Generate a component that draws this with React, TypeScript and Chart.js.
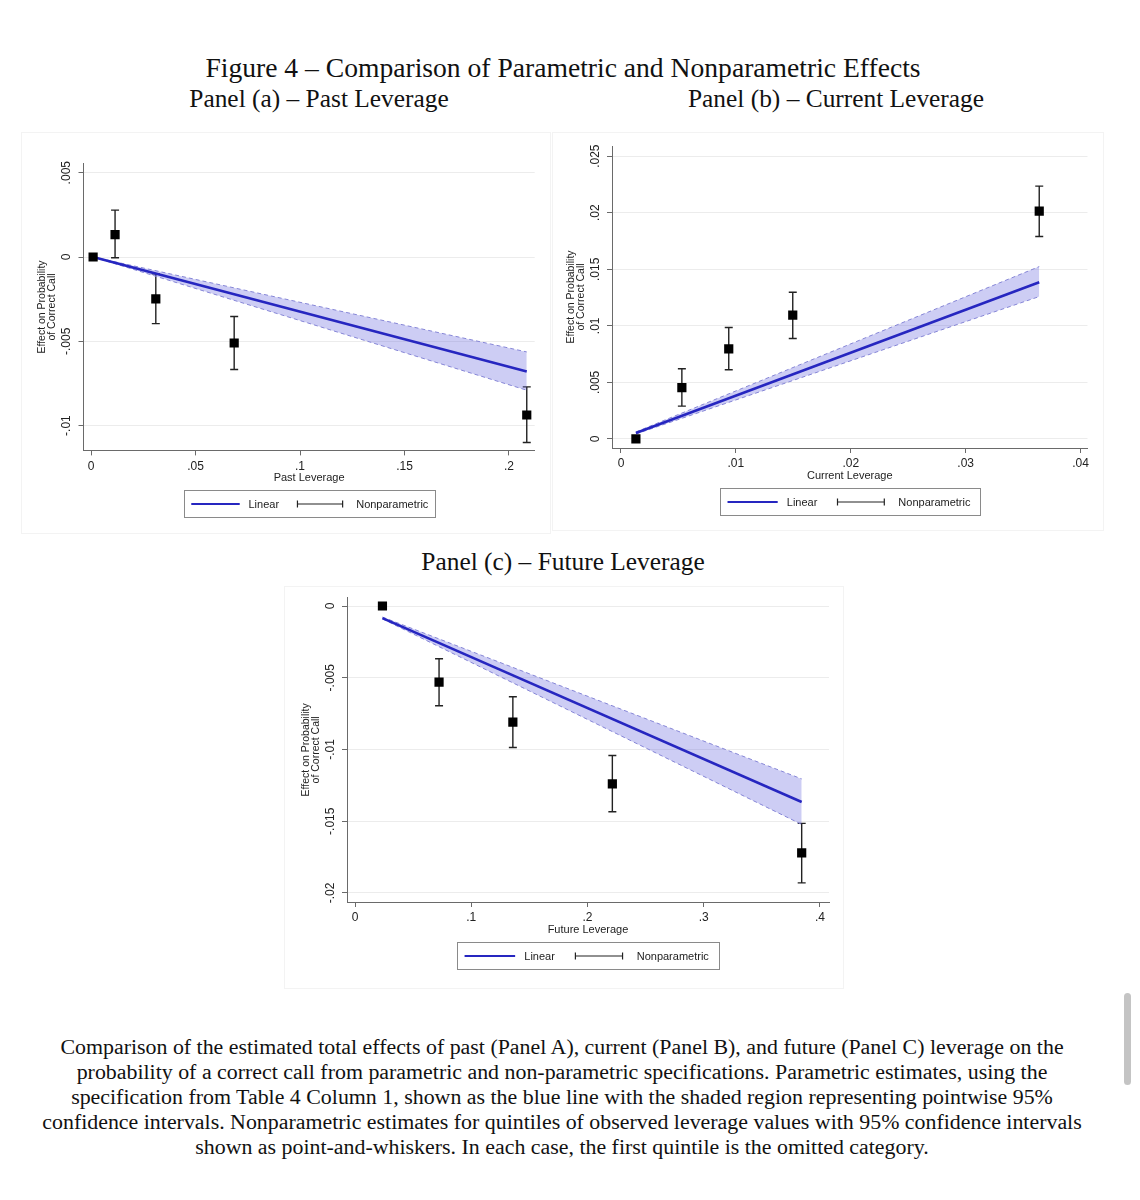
import React, { useEffect, useRef } from "react";
import { Chart, registerables } from "chart.js";

Chart.register(...registerables);

// ---------- Panel (a): Past Leverage ----------
const PAST_X = [0.001, 0.0115, 0.031, 0.0685, 0.2085];
const PAST_Y = [0, 0.00133, -0.00248, -0.0051, -0.00937];
const PAST_LO = [0, -0.00004, -0.00395, -0.00667, -0.011];
const PAST_HI = [0, 0.00278, -0.00099, -0.00353, -0.0077];
const PAST_LINE_X = [0.001, 0.2085];
const PAST_LINE_Y = [0, -0.00679];
const PAST_BAND_UP = [0, -0.00563];
const PAST_BAND_LO = [0, -0.0079];
const PAST_X_TICKS = [0, 0.05, 0.1, 0.15, 0.2];
const PAST_Y_TICKS = [-0.01, -0.005, 0, 0.005];

// ---------- Panel (b): Current Leverage ----------
const CUR_X = [0.0013, 0.0053, 0.00938, 0.01495, 0.0364];
const CUR_Y = [0, 0.00453, 0.00797, 0.01094, 0.02015];
const CUR_LO = [0, 0.0029, 0.00612, 0.00888, 0.0179];
const CUR_HI = [0, 0.0062, 0.00985, 0.01297, 0.02235];
const CUR_LINE_X = [0.0013, 0.0364];
const CUR_LINE_Y = [0.00053, 0.01385];
const CUR_BAND_UP = [0.00062, 0.01524];
const CUR_BAND_LO = [0.00044, 0.01259];
const CUR_X_TICKS = [0, 0.01, 0.02, 0.03, 0.04];
const CUR_Y_TICKS = [0, 0.005, 0.01, 0.015, 0.02, 0.025];

// ---------- Panel (c): Future Leverage ----------
const FUT_X = [0.0236, 0.0723, 0.1358, 0.2214, 0.3843];
const FUT_Y = [0, -0.00531, -0.00809, -0.0124, -0.0172];
const FUT_LO = [0, -0.00695, -0.00986, -0.01434, -0.0193];
const FUT_HI = [0, -0.00368, -0.00632, -0.01042, -0.01515];
const FUT_LINE_X = [0.0236, 0.3843];
const FUT_LINE_Y = [-0.00084, -0.01366];
const FUT_BAND_UP = [-0.00077, -0.01205];
const FUT_BAND_LO = [-0.0009, -0.01522];
const FUT_X_TICKS = [0, 0.1, 0.2, 0.3, 0.4];
const FUT_Y_TICKS = [-0.02, -0.015, -0.01, -0.005, 0];

const Y_TITLE = ["Effect on Probability", "of Correct Call"];
const LEGEND_LABELS = ["Linear", "Nonparametric"];

const CAPTION_LINES = [
  "Comparison of the estimated total effects of past (Panel A), current (Panel B), and future (Panel C) leverage on the",
  "probability of a correct call from parametric and non-parametric specifications. Parametric estimates, using the",
  "specification from Table 4 Column 1, shown as the blue line with the shaded region representing pointwise 95%",
  "confidence intervals. Nonparametric estimates for quintiles of observed leverage values with 95% confidence intervals",
  "shown as point-and-whiskers. In each case, the first quintile is the omitted category.",
];

const BLUE = "#2626c0";
const EDGE = "#8585d6";
const BAND = "rgba(90,90,220,0.30)";
const AXIS = "#6a6a6a";
const SANS = "'Liberation Sans', Arial, sans-serif";
const SERIF = "'Liberation Serif', 'Times New Roman', serif";

const fmt = (v: number) => {
  if (Math.abs(v) < 1e-12) return "0";
  const s = String(Number(v.toPrecision(6)));
  return s.replace(/^(-?)0\./, "$1.");
};

type Box = { left: number; top: number; width: number; height: number };
type Area = { left: number; top: number; right: number; bottom: number };

type PanelProps = {
  box: Box;
  area: Area;
  xs: number[];
  ys: number[];
  lo: number[];
  hi: number[];
  lineX: number[];
  lineY: number[];
  bandUp: number[];
  bandLo: number[];
  xTicks: number[];
  yTicks: number[];
  xRange: [number, number];
  yRange: [number, number];
  xTitle: string;
  legendW: number;
};

function Panel(p: PanelProps) {
  const ref = useRef<HTMLCanvasElement | null>(null);
  useEffect(() => {
    if (!ref.current) return;
    const overlay = {
      id: "overlay",
      beforeDatasetsDraw(chart: any) {
        const ctx = chart.ctx;
        const xs = chart.scales.x;
        const yS = chart.scales.y;
        ctx.save();
        ctx.strokeStyle = "#222";
        ctx.lineWidth = 1.4;
        for (let i = 0; i < p.xs.length; i++) {
          if (p.lo[i] === p.hi[i]) continue;
          const px = xs.getPixelForValue(p.xs[i]);
          const y1 = yS.getPixelForValue(p.lo[i]);
          const y2 = yS.getPixelForValue(p.hi[i]);
          ctx.beginPath();
          ctx.moveTo(px, y1);
          ctx.lineTo(px, y2);
          ctx.moveTo(px - 4, y1);
          ctx.lineTo(px + 4, y1);
          ctx.moveTo(px - 4, y2);
          ctx.lineTo(px + 4, y2);
          ctx.stroke();
        }
        ctx.restore();
      },
      afterDraw(chart: any) {
        const ctx = chart.ctx;
        const a = chart.chartArea;
        const xs = chart.scales.x;
        const yS = chart.scales.y;
        ctx.save();
        ctx.fillStyle = "#222";
        // y tick labels (rotated)
        ctx.font = `12px ${SANS}`;
        ctx.textAlign = "center";
        ctx.textBaseline = "middle";
        for (const t of yS.ticks) {
          const py = yS.getPixelForValue(t.value);
          ctx.save();
          ctx.translate(a.left - 16.5, py);
          ctx.rotate(-Math.PI / 2);
          ctx.fillText(fmt(t.value), 0, 0);
          ctx.restore();
        }
        // y title
        ctx.font = `10.5px ${SANS}`;
        const cy = (a.top + a.bottom) / 2;
        Y_TITLE.forEach((line, i) => {
          ctx.save();
          ctx.translate(a.left - 41 + i * 10, cy);
          ctx.rotate(-Math.PI / 2);
          ctx.fillText(line, 0, 0);
          ctx.restore();
        });
        // x tick labels
        ctx.font = `12px ${SANS}`;
        for (const t of xs.ticks) {
          const px = xs.getPixelForValue(t.value);
          ctx.fillText(fmt(t.value), px, a.bottom + 16);
        }
        // x title
        const cx = (a.left + a.right) / 2;
        ctx.font = `11px ${SANS}`;
        ctx.fillText(p.xTitle, cx, a.bottom + 28);
        // legend
        const W = p.legendW;
        const H = 27;
        const bx = Math.round(cx - W / 2) + 0.5;
        const by = Math.round(a.bottom + 40) + 0.5;
        ctx.fillStyle = "#fff";
        ctx.fillRect(bx, by, W, H);
        ctx.strokeStyle = "#8a8a8a";
        ctx.lineWidth = 1;
        ctx.strokeRect(bx, by, W, H);
        const my = by + H / 2;
        ctx.strokeStyle = BLUE;
        ctx.lineWidth = 2;
        ctx.beginPath();
        ctx.moveTo(bx + 0.027 * W, my);
        ctx.lineTo(bx + 0.22 * W, my);
        ctx.stroke();
        ctx.strokeStyle = "#222";
        ctx.lineWidth = 1.2;
        const e1 = bx + 0.45 * W;
        const e2 = bx + 0.63 * W;
        ctx.beginPath();
        ctx.moveTo(e1, my);
        ctx.lineTo(e2, my);
        ctx.moveTo(e1, my - 3.5);
        ctx.lineTo(e1, my + 3.5);
        ctx.moveTo(e2, my - 3.5);
        ctx.lineTo(e2, my + 3.5);
        ctx.stroke();
        ctx.fillStyle = "#222";
        ctx.font = `11px ${SANS}`;
        ctx.textAlign = "left";
        ctx.fillText(LEGEND_LABELS[0], bx + 0.255 * W, my + 0.5);
        ctx.fillText(LEGEND_LABELS[1], bx + 0.684 * W, my + 0.5);
        ctx.restore();
      },
    };

    const pts = (xv: number[], yv: number[]) => xv.map((x, i) => ({ x, y: yv[i] }));

    const chart = new Chart(ref.current, {
      type: "scatter",
      data: {
        datasets: [
          {
            label: "Nonparametric",
            data: pts(p.xs, p.ys),
            pointStyle: "rect",
            pointRadius: 6.5,
            backgroundColor: "#000",
            borderColor: "#000",
            borderWidth: 0,
            showLine: false,
          },
          {
            label: "Linear",
            data: pts(p.lineX, p.lineY),
            showLine: true,
            borderColor: BLUE,
            borderWidth: 2.5,
            pointRadius: 0,
            fill: false,
          },
          {
            label: "upper",
            data: pts(p.lineX, p.bandUp),
            showLine: true,
            borderColor: EDGE,
            borderWidth: 1,
            borderDash: [4, 3],
            pointRadius: 0,
            fill: false,
          },
          {
            label: "lower",
            data: pts(p.lineX, p.bandLo),
            showLine: true,
            borderColor: EDGE,
            borderWidth: 1,
            borderDash: [4, 3],
            pointRadius: 0,
            fill: "-1",
            backgroundColor: BAND,
          },
        ],
      } as any,
      options: {
        animation: false,
        responsive: false,
        maintainAspectRatio: false,
        events: [],
        layout: {
          padding: { left: 0, top: p.area.top, right: p.box.width - p.area.right, bottom: 0 },
        },
        plugins: { legend: { display: false }, tooltip: { enabled: false } },
        scales: {
          x: {
            type: "linear",
            min: p.xRange[0],
            max: p.xRange[1],
            afterBuildTicks: (s: any) => {
              s.ticks = p.xTicks.map((v) => ({ value: v }));
            },
            afterFit: (s: any) => {
              s.height = p.box.height - p.area.bottom;
            },
            ticks: { display: false },
            grid: { drawOnChartArea: false, drawTicks: true, tickLength: 5, tickColor: AXIS },
            border: { color: AXIS, width: 1 },
          },
          y: {
            type: "linear",
            min: p.yRange[0],
            max: p.yRange[1],
            afterBuildTicks: (s: any) => {
              s.ticks = p.yTicks.map((v) => ({ value: v }));
            },
            afterFit: (s: any) => {
              s.width = p.area.left;
            },
            ticks: { display: false },
            grid: { color: "#ececec", lineWidth: 1, drawTicks: true, tickLength: 5, tickColor: AXIS },
            border: { color: AXIS, width: 1 },
          },
        },
      } as any,
      plugins: [overlay],
    });
    return () => chart.destroy();
  }, []);

  return (
    <div
      style={{
        position: "absolute",
        left: p.box.left,
        top: p.box.top,
        width: p.box.width,
        height: p.box.height,
        boxShadow: "0 0 0 1px #f3f3f3",
      }}
    >
      <canvas ref={ref} width={p.box.width} height={p.box.height} style={{ display: "block" }} />
    </div>
  );
}

const titleStyle = (cx: number, cy: number, size: number): React.CSSProperties => ({
  position: "absolute",
  left: cx - 560,
  width: 1120,
  top: cy - size * 0.6,
  lineHeight: `${size * 1.2}px`,
  fontSize: size,
  fontFamily: SERIF,
  textAlign: "center",
  color: "#111",
  whiteSpace: "nowrap",
});

export default function App() {
  return (
    <div
      style={{
        position: "absolute",
        left: 0,
        top: 0,
        width: 1140,
        height: 1200,
        background: "#fff",
        overflow: "hidden",
      }}
    >
      <div style={titleStyle(563, 68, 27.6)}>Figure 4 – Comparison of Parametric and Nonparametric Effects</div>
      <div style={titleStyle(319, 98, 25.4)}>Panel (a) – Past Leverage</div>
      <div style={titleStyle(836, 98, 25.4)}>Panel (b) – Current Leverage</div>
      <div style={titleStyle(563, 561, 25.4)}>Panel (c) – Future Leverage</div>

      <Panel
        box={{ left: 22, top: 133, width: 528, height: 400 }}
        area={{ left: 61.5, top: 30.6, right: 512.7, bottom: 317.4 }}
        xs={PAST_X}
        ys={PAST_Y}
        lo={PAST_LO}
        hi={PAST_HI}
        lineX={PAST_LINE_X}
        lineY={PAST_LINE_Y}
        bandUp={PAST_BAND_UP}
        bandLo={PAST_BAND_LO}
        xTicks={PAST_X_TICKS}
        yTicks={PAST_Y_TICKS}
        xRange={[-0.0036, 0.2123]}
        yRange={[-0.01147, 0.00554]}
        xTitle="Past Leverage"
        legendW={251}
      />
      <Panel
        box={{ left: 553, top: 133, width: 550, height: 397 }}
        area={{ left: 59, top: 13, right: 534.5, bottom: 315 }}
        xs={CUR_X}
        ys={CUR_Y}
        lo={CUR_LO}
        hi={CUR_HI}
        lineX={CUR_LINE_X}
        lineY={CUR_LINE_Y}
        bandUp={CUR_BAND_UP}
        bandLo={CUR_BAND_LO}
        xTicks={CUR_X_TICKS}
        yTicks={CUR_Y_TICKS}
        xRange={[-0.00078, 0.0406]}
        yRange={[-0.0008, 0.0259]}
        xTitle="Current Leverage"
        legendW={260}
      />
      <Panel
        box={{ left: 285, top: 587, width: 558, height: 401 }}
        area={{ left: 62, top: 10.7, right: 544, bottom: 315 }}
        xs={FUT_X}
        ys={FUT_Y}
        lo={FUT_LO}
        hi={FUT_HI}
        lineX={FUT_LINE_X}
        lineY={FUT_LINE_Y}
        bandUp={FUT_BAND_UP}
        bandLo={FUT_BAND_LO}
        xTicks={FUT_X_TICKS}
        yTicks={FUT_Y_TICKS}
        xRange={[-0.0069, 0.4078]}
        yRange={[-0.02063, 0.00058]}
        xTitle="Future Leverage"
        legendW={262}
      />

      {CAPTION_LINES.map((line, i) => (
        <div key={i} style={titleStyle(562, 1047 + i * 25, 21.9)}>
          {line}
        </div>
      ))}

      <div
        style={{
          position: "absolute",
          left: 1124,
          top: 993,
          width: 7,
          height: 92,
          borderRadius: 4,
          background: "#c4c4c4",
        }}
      />
    </div>
  );
}
